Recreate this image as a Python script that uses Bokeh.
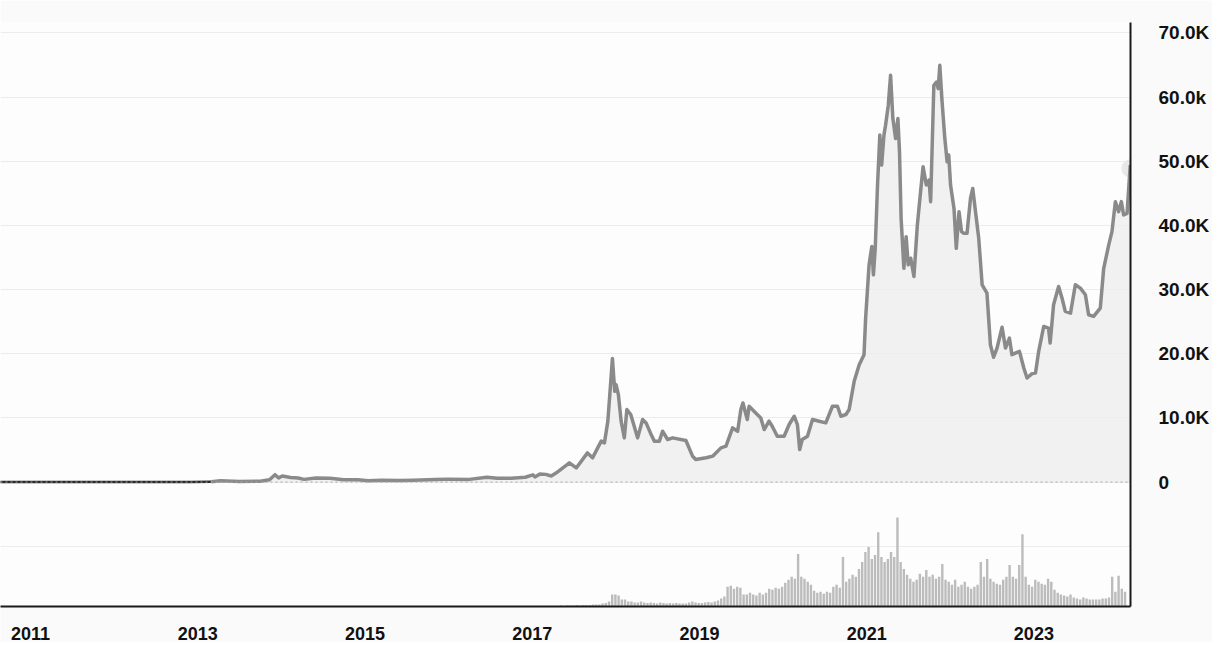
import pandas as pd
from bokeh.plotting import figure
from bokeh.models import Range1d, FixedTicker, DatetimeTickFormatter, Span, ColumnDataSource
from bokeh.embed import file_html
from bokeh.resources import INLINE

# ---------------- data ----------------
price_dates = [
    "2010-08-01", "2010-12-01", "2011-03-01", "2011-06-08", "2011-09-01", "2011-12-01",
    "2012-03-01", "2012-06-01", "2012-09-01", "2012-12-01", "2013-03-01",
    "2013-04-10", "2013-07-01", "2013-10-01", "2013-11-10", "2013-12-04", "2013-12-20",
    "2014-01-05", "2014-02-10", "2014-03-15", "2014-04-10", "2014-06-01", "2014-08-01",
    "2014-10-01", "2014-12-01", "2015-01-15", "2015-03-15", "2015-06-01", "2015-08-01",
    "2015-11-05", "2016-01-01", "2016-04-01", "2016-06-17", "2016-08-01", "2016-10-01",
    "2016-12-01", "2017-01-04", "2017-01-12", "2017-02-03", "2017-03-01", "2017-03-25",
    "2017-04-16", "2017-06-12", "2017-07-12", "2017-08-30", "2017-09-21", "2017-10-29",
    "2017-11-12", "2017-11-27", "2017-12-17", "2017-12-27", "2018-01-02", "2018-01-12",
    "2018-01-24", "2018-02-07", "2018-02-18", "2018-03-07", "2018-04-06", "2018-04-28",
    "2018-05-13", "2018-06-04", "2018-06-18", "2018-07-10", "2018-07-24", "2018-08-15",
    "2018-09-06", "2018-11-03", "2018-12-02", "2018-12-16", "2019-01-30", "2019-02-28",
    "2019-04-05", "2019-04-27", "2019-05-26", "2019-06-17", "2019-07-01", "2019-07-10",
    "2019-07-29", "2019-08-06", "2019-09-04", "2019-09-26", "2019-10-11", "2019-11-01",
    "2019-11-15", "2019-12-07", "2020-01-06", "2020-01-28", "2020-02-19", "2020-03-04",
    "2020-03-14", "2020-03-25", "2020-04-17", "2020-05-09", "2020-06-07", "2020-07-06",
    "2020-08-04", "2020-08-26", "2020-09-10", "2020-10-02", "2020-10-16", "2020-11-07",
    "2020-11-29", "2020-12-20", "2020-12-27", "2021-01-11", "2021-01-23", "2021-01-30",
    "2021-02-07", "2021-02-17", "2021-02-27", "2021-03-07", "2021-03-17", "2021-03-24",
    "2021-04-05", "2021-04-15", "2021-04-25", "2021-05-07", "2021-05-17", "2021-05-24",
    "2021-05-31", "2021-06-12", "2021-06-22", "2021-07-01", "2021-07-12", "2021-07-26",
    "2021-08-10", "2021-08-24", "2021-09-04", "2021-09-18", "2021-09-30", "2021-10-07",
    "2021-10-21", "2021-11-02", "2021-11-09", "2021-11-16", "2021-11-26", "2021-12-08",
    "2021-12-18", "2021-12-25", "2022-01-02", "2022-01-17", "2022-01-27", "2022-02-08",
    "2022-02-19", "2022-03-01", "2022-03-15", "2022-03-30", "2022-04-09", "2022-04-21",
    "2022-05-05", "2022-05-20", "2022-06-10", "2022-06-25", "2022-07-09", "2022-07-24",
    "2022-08-15", "2022-08-30", "2022-09-16", "2022-09-27", "2022-10-30", "2022-11-18",
    "2022-12-02", "2022-12-24", "2023-01-08", "2023-01-22", "2023-02-13", "2023-03-06",
    "2023-03-13", "2023-03-28", "2023-04-19", "2023-05-04", "2023-05-18", "2023-06-10",
    "2023-07-01", "2023-07-23", "2023-08-14", "2023-08-28", "2023-09-19", "2023-10-18",
    "2023-11-02", "2023-11-24", "2023-12-08", "2023-12-23", "2024-01-06", "2024-01-18",
    "2024-01-28", "2024-02-12", "2024-02-22", "2024-02-26",
]
price_values = [
    0.06, 0.23, 0.9, 29, 8, 3,
    5, 5.3, 10, 12.5, 34,
    200, 90, 125, 350, 1150, 650,
    950, 700, 630, 420, 640, 590,
    380, 375, 210, 280, 230, 280,
    400, 430, 420, 750, 580, 610,
    750, 1130, 800, 1240, 1200, 950,
    1450, 3000, 2200, 4550, 3780, 6380,
    6100, 9500, 19240, 14150, 15190, 13640,
    9490, 6890, 11300, 10530, 6890, 9750,
    9220, 7410, 6380, 6380, 7930, 6640,
    6890, 6480, 4040, 3530, 3780, 4040,
    5330, 5600, 8440, 7930, 11300, 12330,
    9750, 11820, 10780, 10000, 8190, 9490,
    8710, 7150, 7150, 8970, 10260, 8970,
    5080, 6640, 7150, 9750, 9490, 9220,
    11820, 11820, 10260, 10530, 11300, 15700,
    18300, 19860, 25550, 33850, 36700, 32300,
    36430, 46290, 54070, 49400, 54070, 55620,
    58730, 63400, 56650, 53540, 56650, 51470,
    41100, 33320, 38250, 33850, 34880, 32030,
    40070, 45250, 49140, 46290, 47070, 43700,
    61840, 62350, 61310, 64950, 59250, 53540,
    49920, 50960, 46290, 42650, 36430, 42140,
    39030, 38770, 38770, 44210, 45760, 42140,
    37990, 30740, 29450, 21410, 19460, 20880,
    24130, 20880, 22440, 19860, 20370, 17770,
    16220, 16900, 17000, 20370, 24260, 23990,
    21660, 27630, 30480, 28660, 26590, 26330,
    30740, 30220, 29190, 26080, 25810, 27100,
    33320, 36960, 39030, 43700, 42140, 43700,
    41620, 41880, 47320, 49400,
]
early_end = "2013-03-01"   # dark segment of the line ends here

# volume, two-week bars from 2017-04-01 (arbitrary units)
vol_start = "2017-04-01"
vol_2017a = [0.5, 0.5, 1, 0.5, 1, 1, 1, 1.5, 1, 1.5, 1.5, 1.5, 2]
vol_2017b = [2, 2, 3, 3.5, 5, 12, 12, 11, 7, 7, 5, 5, 4]
vol_2018a = [4, 5, 4, 3.5, 4, 3.5, 3, 4, 3.5, 3, 3.5, 3, 3.5]
vol_2018b = [3, 3, 3, 4, 5, 4, 3.5, 3.5, 4, 4.5, 4, 5, 6]
vol_2019a = [8, 10, 20, 21, 18, 20, 19, 12, 12, 14, 12, 11, 14]
vol_2019b = [12, 14, 18, 17, 19, 18, 20, 24, 27, 30, 28, 53, 30]
vol_2020a = [28, 25, 22, 16, 14, 15, 13, 15, 14, 20, 22, 19, 50]
vol_2020b = [25, 28, 32, 30, 38, 45, 55, 60, 48, 52, 75, 50, 45]
vol_2021a = [48, 55, 50, 90, 45, 38, 32, 28, 25, 27, 33, 30, 37]
vol_2021b = [30, 32, 28, 30, 43, 27, 25, 22, 27, 20, 22, 25, 20]
vol_2022a = [18, 20, 22, 45, 30, 48, 28, 25, 23, 22, 27, 30, 42]
vol_2022b = [30, 28, 42, 73, 30, 22, 20, 27, 25, 23, 22, 28, 25]
vol_2023a = [17, 14, 12, 11, 10, 12, 9, 8, 7, 9, 8, 7, 7]
vol_2023b = [7, 7, 8, 8, 9, 30, 15, 31, 18, 15]

y_tick_values = [0, 10000, 20000, 30000, 40000, 50000, 60000, 70000]
y_tick_labels = ["0", "10.0K", "20.0K", "30.0K", "40.0K", "50.0K", "60.0k", "70.0K"]
x_tick_years = [2011, 2013, 2015, 2017, 2019, 2021, 2023]

# ---------------- build ----------------
dates = pd.to_datetime(price_dates)
df = pd.DataFrame({"date": dates, "price": price_values})
early = df[df["date"] <= pd.Timestamp(early_end)]
late = df[df["date"] >= pd.Timestamp(early_end)]

vol_values = (vol_2017a + vol_2017b + vol_2018a + vol_2018b + vol_2019a + vol_2019b +
              vol_2020a + vol_2020b + vol_2021a + vol_2021b + vol_2022a + vol_2022b +
              vol_2023a + vol_2023b)
vol_dates = pd.date_range(vol_start, periods=len(vol_values), freq="14D") + pd.Timedelta(days=7)
vol_src = ColumnDataSource(dict(date=vol_dates, vol=vol_values))

p = figure(width=1212, height=642, x_axis_type="datetime", y_axis_location="right",
           output_backend="svg", toolbar_location=None,
           x_range=Range1d(pd.Timestamp("2010-08-23"), pd.Timestamp("2024-02-27")),
           y_range=Range1d(-19390, 71620),
           min_border_left=0, min_border_right=80, min_border_top=22, min_border_bottom=36)
p.extra_y_ranges = {"vol": Range1d(0, 590)}
p.background_fill_color = "#fdfdfd"
p.border_fill_color = "#fafafa"
p.outline_line_color = None

p.xgrid.grid_line_color = None
p.ygrid.ticker = FixedTicker(ticks=[-10000] + y_tick_values)
p.ygrid.grid_line_color = "#ececec"
p.ygrid.grid_line_width = 1

# area under price
p.varea(x=late["date"], y1=0, y2=late["price"], fill_color="#eeeeee", fill_alpha=0.8)

# volume bars
p.vbar(x="date", top="vol", bottom=0, width=14 * 24 * 3600 * 1000 * 0.75, source=vol_src,
       y_range_name="vol", fill_color="#bcbcbc", line_color=None)

# zero line
p.add_layout(Span(location=0, dimension="width", line_color="#a8a8a8",
                  line_dash="2 3", line_width=1))

# end marker halo
p.scatter(x=[df["date"].iloc[-1]], y=[df["price"].iloc[-1] - 500], size=18,
          fill_color="#e6e6e6", fill_alpha=0.9, line_color=None)

# price line
p.line(early["date"], early["price"], line_color="#2a2a2a", line_width=2.5)
p.line(late["date"], late["price"], line_color="#8a8a8a", line_width=3.5,
       line_join="round")

# axes
xa = p.xaxis[0]
xa.ticker = FixedTicker(ticks=[pd.Timestamp(f"{y}-01-01").value / 1e6 for y in x_tick_years])
xa.formatter = DatetimeTickFormatter(years="%Y", months="%Y", days="%Y", hours="%Y",
                                     minutes="%Y", seconds="%Y", milliseconds="%Y",
                                     microseconds="%Y", hourmin="%Y", minsec="%Y")
xa.axis_line_color = "#1a1a1a"
xa.axis_line_width = 2
xa.major_tick_line_color = None
xa.minor_tick_line_color = None
xa.major_label_text_font = "Liberation Sans"
xa.major_label_text_font_style = "bold"
xa.major_label_text_font_size = "18px"
xa.major_label_text_color = "#111111"
xa.major_label_standoff = 14

ya = p.yaxis[0]
ya.ticker = FixedTicker(ticks=y_tick_values)
ya.major_label_overrides = {v: l for v, l in zip(y_tick_values, y_tick_labels)}
ya.axis_line_color = "#1a1a1a"
ya.axis_line_width = 2
ya.major_tick_line_color = None
ya.minor_tick_line_color = None
ya.major_label_text_font = "Liberation Sans"
ya.major_label_text_font_style = "bold"
ya.major_label_text_font_size = "19px"
ya.major_label_text_color = "#111111"
ya.major_label_standoff = 22

open("out.html", "w").write(file_html(p, INLINE))
